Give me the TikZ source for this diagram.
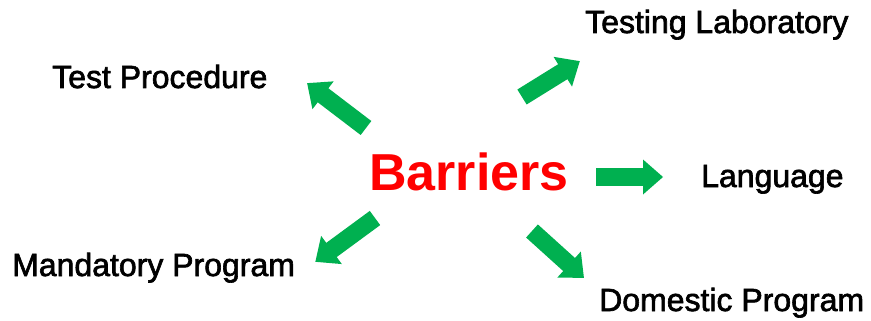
\documentclass[tikz,border=0pt]{standalone}
\usepackage{fontspec}
\setmainfont{Liberation Sans}
\newfontfamily\labfont{Liberation Sans}[FakeBold=2]
\definecolor{arrowgreen}{HTML}{00B050}
\tikzset{
  label text/.style={anchor=base west, inner sep=0pt, font=\labfont\fontsize{32}{36}\selectfont, text=black},
  title text/.style={anchor=base west, inner sep=0pt, font=\bfseries\fontsize{52}{56}\selectfont, text=red},
  pics/barrow/.style={code={
    \fill[arrowgreen] (0,-8.8) -- ({#1-20},-8.8) -- ({#1-20},-17.5) -- (#1,0)
      -- ({#1-20},17.5) -- ({#1-20},8.8) -- (0,8.8) -- cycle;}}
}
\begin{document}
\begin{tikzpicture}[x=1pt,y=-1pt]
\useasboundingbox (0,0) rectangle (871,321);
% labels
\node[title text] (bar) at (369,190) {Barriers};
\node[label text] (lab) at (585,33) {Testing Laboratory};
\node[label text] (proc) at (52,88) {Test Procedure};
\node[label text] (lang) at (701,187) {Language};
\node[label text] (mand) at (12,276) {Mandatory Program};
\node[label text] (dom) at (599,311) {Domestic Program};
% arrows
\coordinate (a1) at (366,128);
\coordinate (a2) at (522,97);
\coordinate (a3) at (596,177);
\coordinate (a4) at (375,218);
\coordinate (a5) at (532,231);
\pic[rotate=142.7] at (a1) {barrow=74};
\pic[rotate=31.8] at (a2) {barrow=68};
\pic[rotate=0] at (a3) {barrow=67};
\pic[rotate=216.3] at (a4) {barrow=74};
\pic[rotate=-42.1] at (a5) {barrow=70};
\end{tikzpicture}
\end{document}
